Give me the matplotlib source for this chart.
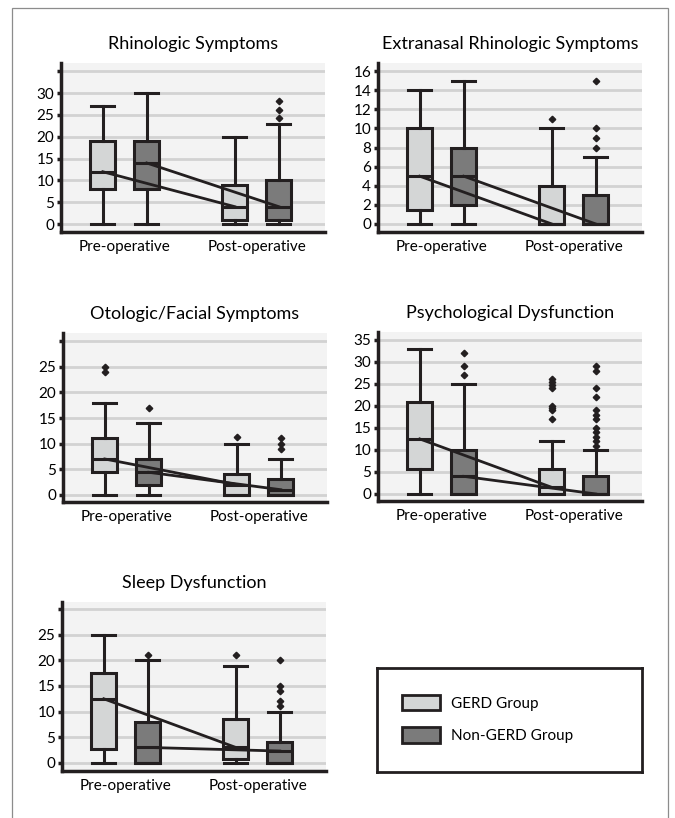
import matplotlib
matplotlib.use('Agg')
import matplotlib.pyplot as plt
from matplotlib.patches import Patch, Rectangle

plt.rcParams['font.family'] = ['Lato', 'DejaVu Sans']

W, H = 675, 818
EDGE = '#231f20'
LIGHT = '#d4d6d6'
DARK = '#7b7b7b'
BG = '#f3f3f3'
GRID = '#d2d2d2'

groups = ['Pre-operative', 'Post-operative']
series = ['GERD Group', 'Non-GERD Group']

# stats per panel: order GERD pre, Non-GERD pre, GERD post, Non-GERD post
# (whislo, q1, med, q3, whishi, outliers)
rhino = [
    (0, 8, 12, 19, 27, []),
    (0, 8, 14, 19, 30, []),
    (0, 1, 4, 9, 20, []),
    (0, 1, 4, 10, 23, [24.3, 26.2, 28.2]),
]
extra = [
    (0, 1.5, 5, 10, 14, []),
    (0, 2, 5, 8, 15, []),
    (0, 0, 0, 4, 10, [11]),
    (0, 0, 0, 3, 7, [8, 9, 10, 15]),
]
oto = [
    (0, 4.5, 7, 11, 18, [24, 25]),
    (0, 2, 4.4, 7, 14, [17]),
    (0, 0, 2, 4, 10, [11.2]),
    (0, 0, 1, 3, 7, [9, 10, 11]),
]
psych = [
    (0, 5.7, 12.5, 21, 33, []),
    (0, 0, 4, 10, 25, [27, 29, 32]),
    (0, 0, 1.5, 5.6, 12, [17, 19, 19.5, 20, 24, 24.7, 25.4, 26.2]),
    (0, 0, 0, 4, 10, [11, 12, 13, 14, 15, 17, 18, 19, 22, 24, 28, 29]),
]
sleep = [
    (0, 2.6, 12.5, 17.5, 25, []),
    (0, 0, 3, 8, 20, [21]),
    (0, 0.8, 3, 8.6, 19, [21]),
    (0, 0, 2.3, 4, 10, [11, 12, 14, 15, 20]),
]

panels = [
    ('Rhinologic Symptoms', rhino, (61, 63, 325, 232), (-1.8, 36.9), list(range(0, 36, 5)), True),
    ('Extranasal Rhinologic Symptoms', extra, (378, 63, 642, 232), (-0.84, 16.85), list(range(0, 17, 2)), False),
    ('Otologic/Facial Symptoms', oto, (63, 333, 327, 502), (-1.4, 31.6), list(range(0, 31, 5)), True),
    ('Psychological Dysfunction', psych, (378, 332, 642, 501), (-1.6, 36.8), list(range(0, 36, 5)), False),
    ('Sleep Dysfunction', sleep, (62, 602, 326, 771), (-1.6, 31.4), list(range(0, 31, 5)), True),
]

positions = [1, 2, 4, 5]
colors = [LIGHT, DARK, LIGHT, DARK]

fig = plt.figure(figsize=(W / 100, H / 100), dpi=100)

# outer frame
fig.patches.append(Rectangle((12 / W, -0.01), 656 / W, (818 - 8) / H + 0.01,
                             transform=fig.transFigure, fill=False,
                             edgecolor='#8c8c8c', lw=0.9))

for title, st, (x0, y0, x1, y1), ylim, ticks, hide_top in panels:
    ax = fig.add_axes([x0 / W, (H - y1) / H, (x1 - x0) / W, (y1 - y0) / H])
    ax.set_facecolor(BG)
    stats = []
    for s in st:
        stats.append(dict(whislo=s[0], q1=s[1], med=s[2], q3=s[3], whishi=s[4], fliers=s[5]))
    bp = ax.bxp(stats, positions=positions, widths=0.56, patch_artist=True,
                boxprops=dict(edgecolor=EDGE, linewidth=2.2),
                medianprops=dict(color=EDGE, linewidth=2.2),
                whiskerprops=dict(color=EDGE, linewidth=2.2),
                capprops=dict(color=EDGE, linewidth=2.2),
                capwidths=0.52,
                flierprops=dict(marker='D', markersize=3.3, markerfacecolor=EDGE,
                                markeredgecolor=EDGE))
    for b, c in zip(bp['boxes'], colors):
        b.set_facecolor(c)
    # median connecting lines
    ax.plot([positions[0], positions[2]], [st[0][2], st[2][2]], color=EDGE, lw=2, zorder=5)
    ax.plot([positions[1], positions[3]], [st[1][2], st[3][2]], color=EDGE, lw=2, zorder=5)

    ax.set_xlim(0.05, 6.05)
    ax.set_ylim(*ylim)
    ax.set_yticks(ticks)
    labels = [str(t) for t in ticks]
    if hide_top:
        labels[-1] = ''
    ax.set_yticklabels(labels)
    ax.set_xticks([1.5, 4.5])
    ax.set_xticklabels(groups)
    ax.tick_params(axis='x', length=0, labelsize=11, pad=6)
    ax.tick_params(axis='y', length=3, width=2.5, color=EDGE, labelsize=11, pad=2)
    for t in ticks:
        ax.axhline(t, color=GRID, lw=2, zorder=0)
    for sp in ['top', 'right']:
        ax.spines[sp].set_visible(False)
    for sp in ['left', 'bottom']:
        ax.spines[sp].set_linewidth(2.5)
        ax.spines[sp].set_color(EDGE)
    ax.set_title(title, fontsize=13, pad=10)

# legend box
lax = fig.add_axes([377 / W, (H - 772) / H, 265 / W, 104 / H])
lax.set_xticks([])
lax.set_yticks([])
for sp in lax.spines.values():
    sp.set_linewidth(2)
    sp.set_color(EDGE)
handles = [Patch(facecolor=LIGHT, edgecolor=EDGE, linewidth=2),
           Patch(facecolor=DARK, edgecolor=EDGE, linewidth=2)]
lax.legend(handles, series, loc='upper left', bbox_to_anchor=(0.07, 0.8),
           frameon=False, fontsize=11, handlelength=2.5, handleheight=1.15,
           labelspacing=1.1, handletextpad=0.7, borderaxespad=0)

fig.savefig('out.png', dpi=100)
